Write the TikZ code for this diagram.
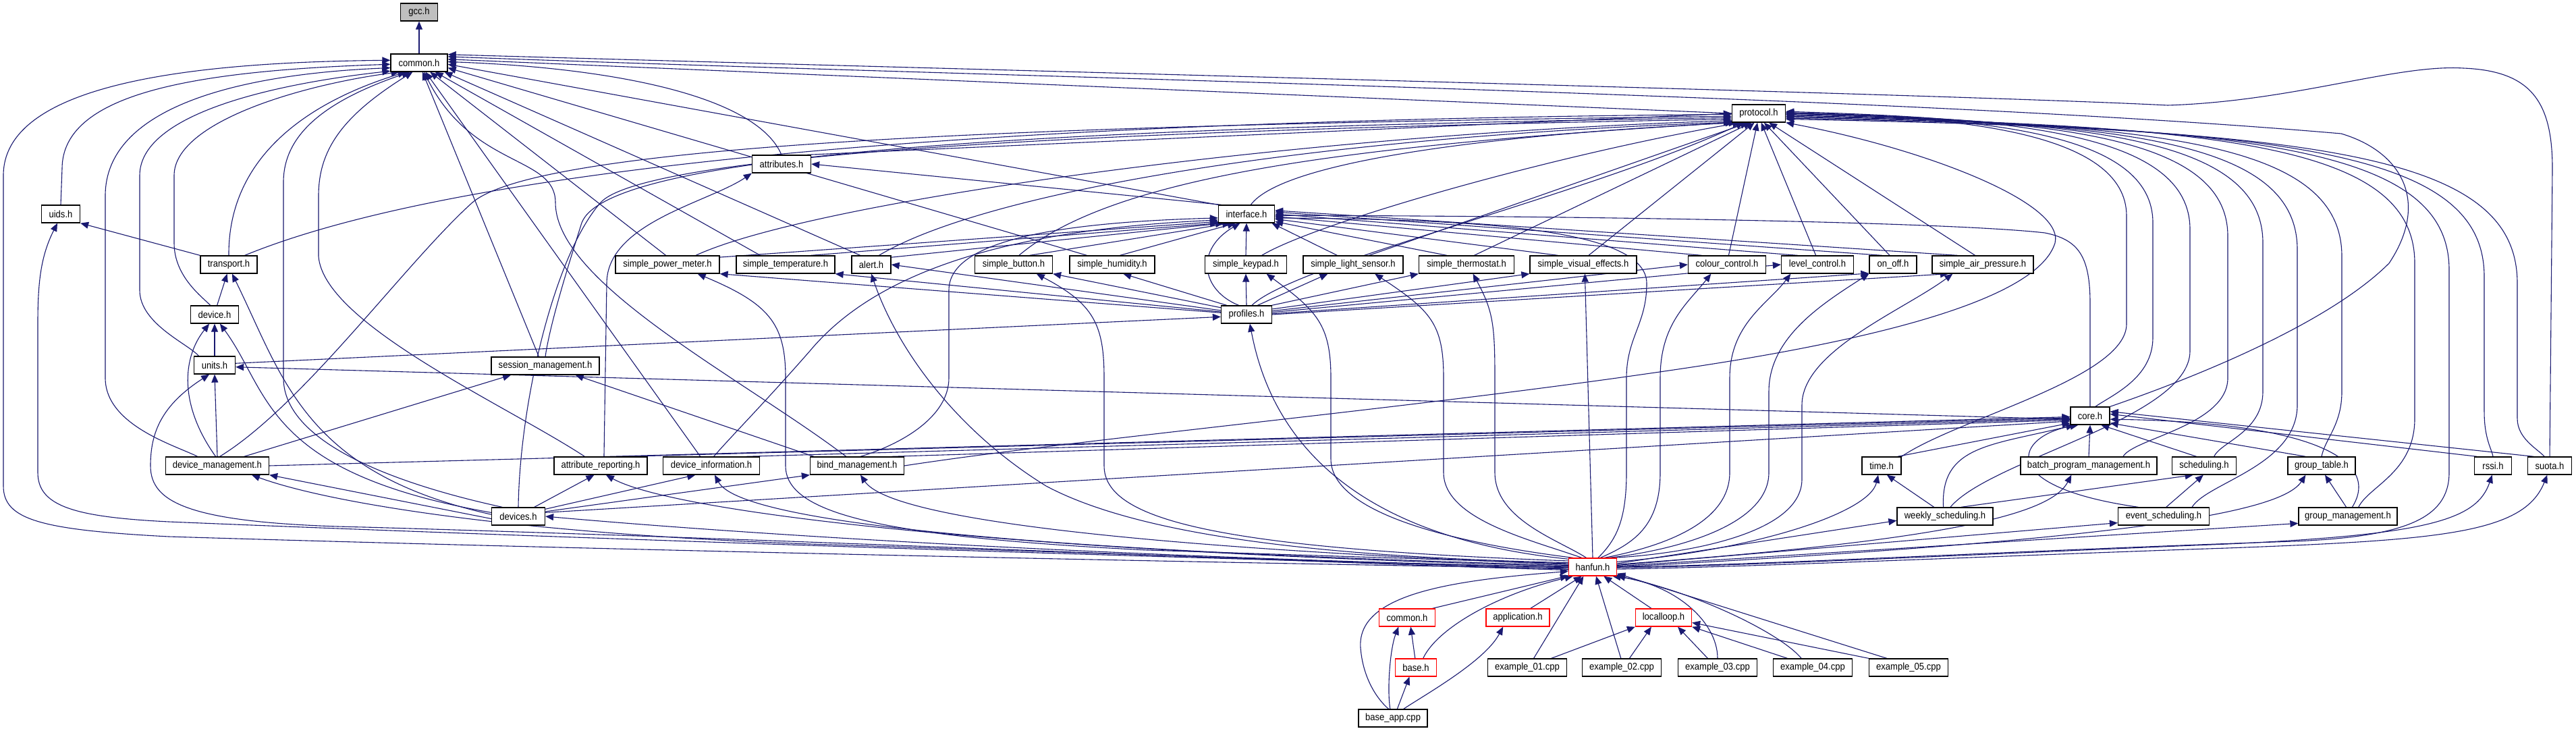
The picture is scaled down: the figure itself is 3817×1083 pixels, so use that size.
\documentclass[tikz,border=0pt]{standalone}
\usepackage{fontspec}
\newfontfamily\dfont{Liberation Sans}[FakeStretch=0.9]
\usetikzlibrary{arrows.meta}
\pgfdeclarelayer{bg}
\pgfsetlayers{bg,main}
\definecolor{edgeblue}{HTML}{191970}
\definecolor{gccfill}{HTML}{BFBFBF}
\tikzset{
  nd/.style={draw=black, line width=1.3pt, fill=white, minimum height=26pt, inner xsep=1pt, inner ysep=0pt, font={\dfont\fontsize{14.5pt}{16pt}\selectfont}},
  rnd/.style={nd, draw=red},
  dep/.style={draw=edgeblue, line width=1.1pt, {Triangle[length=12pt,width=10pt]}-},
}
\begin{document}
\begin{tikzpicture}[x=1pt,y=-1pt]
\useasboundingbox (0,0) rectangle (3817,1083);
% nodes
\node[nd, fill=gccfill, minimum width=55pt] (gcc) at (621,18) {gcc.h};
\node[nd, minimum width=84pt] (common) at (621,93) {common.h};
\node[nd, minimum width=79pt] (protocol) at (2606,168) {protocol.h};
\node[nd, minimum width=87pt] (attributes) at (1158,243) {attributes.h};
\node[nd, minimum width=57pt] (uids) at (90,317) {uids.h};
\node[nd, minimum width=83pt] (interface) at (1847,317) {interface.h};
\node[nd, minimum width=84pt] (transport) at (339,392) {transport.h};
\node[nd, minimum width=154pt] (spm) at (989,392) {simple\_power\_meter.h};
\node[nd, minimum width=146pt] (stemp) at (1164,392) {simple\_temperature.h};
\node[nd, minimum width=58pt] (alert) at (1291,392) {alert.h};
\node[nd, minimum width=115pt] (sbutton) at (1502,392) {simple\_button.h};
\node[nd, minimum width=126pt] (shum) at (1648,392) {simple\_humidity.h};
\node[nd, minimum width=121pt] (skeypad) at (1846,392) {simple\_keypad.h};
\node[nd, minimum width=148pt] (slight) at (2005,392) {simple\_light\_sensor.h};
\node[nd, minimum width=141pt] (stherm) at (2173,392) {simple\_thermostat.h};
\node[nd, minimum width=158pt] (svis) at (2346,392) {simple\_visual\_effects.h};
\node[nd, minimum width=115pt] (colour) at (2559,392) {colour\_control.h};
\node[nd, minimum width=107pt] (level) at (2693,392) {level\_control.h};
\node[nd, minimum width=70pt] (onoff) at (2805,392) {on\_off.h};
\node[nd, minimum width=150pt] (sair) at (2938,392) {simple\_air\_pressure.h};
\node[nd, minimum width=71pt] (device) at (318,466) {device.h};
\node[nd, minimum width=75pt] (profiles) at (1847,466) {profiles.h};
\node[nd, minimum width=61pt] (units) at (318,541) {units.h};
\node[nd, minimum width=160pt] (session) at (808,542) {session\_management.h};
\node[nd, minimum width=58pt] (core) at (3097,616) {core.h};
\node[nd, minimum width=153pt] (devmgmt) at (322,690) {device\_management.h};
\node[nd, minimum width=138pt] (attrrep) at (890,690) {attribute\_reporting.h};
\node[nd, minimum width=143pt] (devinfo) at (1054,690) {device\_information.h};
\node[nd, minimum width=139pt] (bind) at (1270,690) {bind\_management.h};
\node[nd, minimum width=58pt] (time) at (2788,690) {time.h};
\node[nd, minimum width=202pt] (batch) at (3095,690) {batch\_program\_management.h};
\node[nd, minimum width=95pt] (sched) at (3266,690) {scheduling.h};
\node[nd, minimum width=100pt] (gtable) at (3440,690) {group\_table.h};
\node[nd, minimum width=55pt] (rssi) at (3694,690) {rssi.h};
\node[nd, minimum width=65pt] (suota) at (3778,690) {suota.h};
\node[nd, minimum width=79pt] (devices) at (768,765) {devices.h};
\node[nd, minimum width=142pt] (weekly) at (2882,765) {weekly\_scheduling.h};
\node[nd, minimum width=135pt] (event) at (3206,765) {event\_scheduling.h};
\node[nd, minimum width=146pt] (gmgmt) at (3479,765) {group\_management.h};
\node[rnd, minimum width=71pt] (hanfun) at (2360,840) {hanfun.h};
\node[rnd, minimum width=83pt] (common2) at (2085,915) {common.h};
\node[rnd, minimum width=94pt] (application) at (2249,915) {application.h};
\node[rnd, minimum width=83pt] (localloop) at (2465,915) {localloop.h};
\node[rnd, minimum width=61pt] (base) at (2098,989) {base.h};
\node[nd, minimum width=117pt] (ex1) at (2263,989) {example\_01.cpp};
\node[nd, minimum width=117pt] (ex2) at (2403,989) {example\_02.cpp};
\node[nd, minimum width=117pt] (ex3) at (2545,989) {example\_03.cpp};
\node[nd, minimum width=117pt] (ex4) at (2686,989) {example\_04.cpp};
\node[nd, minimum width=117pt] (ex5) at (2828,989) {example\_05.cpp};
\node[nd, minimum width=102pt] (baseapp) at (2064,1064) {base\_app.cpp};
\begin{pgfonlayer}{bg}
\fill[white] (0,0) rectangle (3817,1083);
% gcc
\draw[dep] (gcc) -- (common);
% into common
\draw[dep] (common.175) .. controls (300,92) and (5,120) .. (5,260) -- (5,720) .. controls (5,770) and (60,785) .. (250,795) .. controls (900,815) and (1900,836) .. (hanfun.183);
\draw[dep] (common.183) .. controls (280,105) and (92,140) .. (92,250) -- (uids.north);
\draw[dep] (common.190) .. controls (350,110) and (156,160) .. (156,290) -- (156,560) .. controls (156,630) and (260,660) .. (devmgmt.155);
\draw[dep] (common.196) .. controls (400,125) and (207,170) .. (207,260) -- (207,430) .. controls (207,480) and (280,510) .. (units.150);
\draw[dep] (common.205) .. controls (450,125) and (258,180) .. (258,260) -- (258,360) .. controls (258,410) and (300,440) .. (device.115);
\draw[dep] (common.215) .. controls (460,150) and (338,230) .. (transport.north);
\draw[dep] (common.225) .. controls (480,150) and (420,200) .. (420,270) -- (420,560) .. controls (420,660) and (600,720) .. (devices.150);
\draw[dep] (common.235) .. controls (510,170) and (472,220) .. (472,290) -- (472,380) .. controls (480,480) and (750,600) .. (attrrep.150);
\draw[dep] (common.290) -- (session.125);
\draw[dep] (common.298) .. controls (700,250) and (823,230) .. (823,300) .. controls (823,420) and (1100,560) .. (bind.140);
\draw[dep] (common.305) -- (devinfo.140);
\draw[dep] (common.320) -- (spm.100);
\draw[dep] (common.330) -- (stemp.160);
\draw[dep] (common.340) -- (alert.140);
\draw[dep] (common.350) -- (shum.160);
\draw[dep] (common.357) -- (interface.north west);
\draw[dep] (common.2) .. controls (900,100) and (1120,140) .. (attributes.north);
\draw[dep] (common.7) -- (protocol.west);
\draw[dep] (common.12) .. controls (1500,115) and (2800,140) .. (3469,198) .. controls (3560,225) and (3600,300) .. (3540,390) .. controls (3450,480) and (3250,560) .. (core.north east);
\draw[dep] (common.16) .. controls (1500,105) and (2900,140) .. (3212,156) .. controls (3400,150) and (3550,95) .. (3650,101) .. controls (3750,105) and (3782,150) .. (3782,250) -- (suota.north);
% protocol left
\draw[dep] (protocol.182) .. controls (1500,178) and (700,240) .. (transport.30);
\draw[dep] (protocol.186) .. controls (1500,185) and (800,215) .. (700,300) .. controls (600,390) and (450,600) .. (devmgmt.75);
\draw[dep] (protocol.189) .. controls (1500,190) and (900,230) .. (862,330) .. controls (840,400) and (815,480) .. (session.north);
\draw[dep] (protocol.192) .. controls (1500,195) and (950,235) .. (890,300) .. controls (820,380) and (770,600) .. (devices.north);
\draw[dep] (protocol.180) -- (attributes.20);
\draw[dep] (protocol.195) .. controls (1900,200) and (1200,300) .. (spm.18);
\draw[dep] (protocol.198) .. controls (1900,205) and (1450,290) .. (alert.50);
\draw[dep] (protocol.200) .. controls (2000,215) and (1650,260) .. (sbutton.60);
\draw[dep] (protocol.203) .. controls (2200,200) and (1900,240) .. (interface.65);
\draw[dep] (protocol.207) .. controls (2300,230) and (1950,330) .. (skeypad.30);
\draw[dep] (protocol.212) .. controls (2350,290) and (1920,390) .. (profiles.60);
\draw[dep] (protocol.222) -- (slight.30);
\draw[dep] (protocol.232) -- (stherm.50);
\draw[dep] (protocol.245) -- (svis.60);
\draw[dep] (protocol.262) -- (colour.80);
\draw[dep] (protocol.285) -- (level.100);
\draw[dep] (protocol.300) -- (onoff.110);
\draw[dep] (protocol.318) -- (sair.130);
% protocol right fan
\draw[dep] (protocol.east) .. controls (2900,172) and (3151,195) .. (3151,320) -- (3151,480) .. controls (3151,560) and (2900,620) .. (time.north east);
\draw[dep] (protocol.east) .. controls (2950,174) and (3190,198) .. (3190,330) -- (3190,500) .. controls (3190,560) and (3130,585) .. (core.60);
\draw[dep] (protocol.4) .. controls (3000,176) and (3245,200) .. (3245,340) -- (3245,520) .. controls (3245,620) and (2950,680) .. (weekly.60);
\draw[dep] (protocol.2) .. controls (3050,178) and (3301,202) .. (3301,350) -- (3301,560) .. controls (3301,630) and (3160,650) .. (batch.15);
\draw[dep] (protocol.0) .. controls (3100,180) and (3353,205) .. (3353,360) -- (3353,580) .. controls (3353,640) and (3290,655) .. (sched.43);
\draw[dep] (protocol.358) .. controls (3150,182) and (3404,208) .. (3404,370) -- (3404,600) .. controls (3404,690) and (3270,715) .. (event.18);
\draw[dep] (protocol.356) .. controls (3200,184) and (3470,210) .. (3470,380) -- (3470,580) .. controls (3470,630) and (3445,650) .. (gtable.north);
\draw[dep] (protocol.354) .. controls (3300,186) and (3578,215) .. (3578,390) -- (3578,620) .. controls (3578,700) and (3510,720) .. (gmgmt.41);
\draw[dep] (protocol.352) .. controls (3350,188) and (3629,220) .. (3629,400) -- (3629,700) .. controls (3629,770) and (3560,795) .. (3400,802) .. controls (3000,815) and (2600,838) .. (hanfun.east);
\draw[dep] (protocol.350) .. controls (3400,190) and (3681,225) .. (3681,410) -- (3681,610) .. controls (3681,650) and (3692,665) .. (rssi.north);
\draw[dep] (protocol.348) .. controls (3450,192) and (3730,230) .. (3730,420) -- (3730,620) .. controls (3730,650) and (3760,665) .. (suota.120);
\draw[dep] (protocol.south east) .. controls (2850,220) and (3060,300) .. (3045,360) .. controls (3020,440) and (2800,500) .. (2500,545) .. controls (2100,605) and (1600,650) .. (bind.east);
% interface
\draw[dep] (attributes.east) -- (interface.160);
\draw[dep] (interface.188) .. controls (1550,330) and (1406,360) .. (1406,430) -- (1406,560) .. controls (1406,620) and (1330,660) .. (bind.70);
\draw[dep] (interface.192) .. controls (1500,340) and (1300,400) .. (1200,520) .. controls (1130,600) and (1080,650) .. (devinfo.75);
\draw[dep] (interface.195) -- (spm.8);
\draw[dep] (interface.198) -- (stemp.20);
\draw[dep] (interface.202) -- (alert.20);
\draw[dep] (interface.210) -- (sbutton.30);
\draw[dep] (interface.220) -- (shum.50);
\draw[dep] (interface.270) -- (skeypad.north);
\draw[dep] (interface.235) .. controls (1770,370) and (1780,430) .. (profiles.130);
\draw[dep] (interface.340) -- (slight.150);
\draw[dep] (interface.345) -- (stherm.155);
\draw[dep] (interface.350) -- (svis.160);
\draw[dep] (interface.355) -- (colour.160);
\draw[dep] (interface.0) -- (level.155);
\draw[dep] (interface.4) -- (onoff.140);
\draw[dep] (interface.7) -- (sair.160);
\draw[dep] (interface.352) .. controls (2200,325) and (2440,340) .. (2440,420) .. controls (2440,480) and (2410,500) .. (2410,560) -- (2410,700) .. controls (2410,770) and (2395,800) .. (hanfun.60);
\draw[dep] (interface.357) .. controls (2400,320) and (2900,330) .. (3030,345) .. controls (3080,355) and (3097,380) .. (3097,450) -- (core.north);
% profiles
\draw[dep] (spm.south east) -- (profiles.176);
\draw[dep] (stemp.south east) -- (profiles.174);
\draw[dep] (alert.east) -- (profiles.171);
\draw[dep] (sbutton.south east) -- (profiles.165);
\draw[dep] (shum.320) -- (profiles.155);
\draw[dep] (skeypad.south) -- (profiles.north);
\draw[dep] (slight.200) -- (profiles.40);
\draw[dep] (stherm.south west) -- (profiles.20);
\draw[dep] (svis.south west) -- (profiles.12);
\draw[dep] (colour.west) -- (profiles.8);
\draw[dep] (level.west) -- (profiles.5);
\draw[dep] (onoff.200) -- (profiles.2);
\draw[dep] (sair.195) -- (profiles.0);
\draw[dep] (profiles.185) -- (units.5);
% core
\draw[dep] (units.355) -- (core.190);
\draw[dep] (core.183) -- (devmgmt.east);
\draw[dep] (core.186) -- (attrrep.20);
\draw[dep] (core.189) -- (devinfo.15);
\draw[dep] (core.192) -- (bind.15);
\draw[dep] (core.195) -- (devices.8);
\draw[dep] (core.200) -- (time.30);
\draw[dep] (core.210) .. controls (2950,660) and (2875,660) .. (weekly.100);
\draw[dep] (core.218) .. controls (2990,645) and (2950,720) .. (event.160);
\draw[dep] (core.south) -- (batch.north);
\draw[dep] (core.320) -- (sched.130);
\draw[dep] (core.340) -- (gtable.150);
\draw[dep] (core.350) .. controls (3420,625) and (3530,680) .. (gmgmt.65);
\draw[dep] (core.5) -- (rssi.150);
\draw[dep] (core.12) -- (suota.150);
\draw[dep] (time.300) -- (weekly.140);
\draw[dep] (sched.220) -- (weekly.30);
\draw[dep] (sched.265) -- (event.75);
\draw[dep] (gtable.290) -- (gmgmt.100);
% hanfun to right nodes
\draw[dep] (time.250) .. controls (2770,760) and (2600,815) .. (hanfun.12);
\draw[dep] (weekly.185) -- (hanfun.8);
\draw[dep] (event.188) -- (hanfun.4);
\draw[dep] (gmgmt.188) -- (hanfun.2);
\draw[dep] (batch.208) .. controls (3040,760) and (2900,800) .. (hanfun.6);
\draw[dep] (gtable.210) .. controls (3380,760) and (3150,800) .. (hanfun.0);
\draw[dep] (rssi.265) .. controls (3670,770) and (3600,792) .. (3300,806) .. controls (3000,818) and (2600,838) .. (hanfun.358);
\draw[dep] (suota.255) .. controls (3740,790) and (3620,800) .. (3300,812) .. controls (3000,822) and (2600,840) .. (hanfun.355);
% hanfun to interface headers
\draw[dep] (skeypad.336) .. controls (1950,460) and (1972,480) .. (1972,560) -- (1972,680) .. controls (1972,770) and (2200,810) .. (hanfun.155);
\draw[dep] (slight.337) .. controls (2120,460) and (2139,480) .. (2139,560) -- (2139,700) .. controls (2139,770) and (2270,800) .. (hanfun.140);
\draw[dep] (stherm.305) .. controls (2212,460) and (2215,480) .. (2215,560) -- (2215,700) .. controls (2215,770) and (2310,800) .. (hanfun.125);
\draw[dep] (svis.280) -- (hanfun.north);
\draw[dep] (colour.210) .. controls (2500,450) and (2460,480) .. (2460,560) -- (2460,700) .. controls (2460,780) and (2420,805) .. (hanfun.50);
\draw[dep] (level.199) .. controls (2620,450) and (2563,480) .. (2563,560) -- (2563,700) .. controls (2563,780) and (2450,812) .. (hanfun.38);
\draw[dep] (onoff.south west) .. controls (2700,450) and (2621,500) .. (2621,580) -- (2621,700) .. controls (2621,785) and (2460,818) .. (hanfun.30);
\draw[dep] (sair.197) .. controls (2820,460) and (2670,520) .. (2670,600) -- (2670,710) .. controls (2670,795) and (2480,822) .. (hanfun.25);
% hanfun to left nodes
\draw[dep] (spm.343) .. controls (1140,450) and (1164,480) .. (1164,560) -- (1164,690) .. controls (1164,760) and (1300,795) .. (1700,815) -- (hanfun.172);
\draw[dep] (alert.south) .. controls (1330,520) and (1420,640) .. (1550,720) .. controls (1700,800) and (2000,826) .. (hanfun.170);
\draw[dep] (sbutton.338) .. controls (1620,450) and (1636,480) .. (1636,560) -- (1636,690) .. controls (1636,770) and (1800,812) .. (hanfun.166);
\draw[dep] (profiles.290) .. controls (1875,600) and (1950,790) .. (hanfun.162);
\draw[dep] (devinfo.290) .. controls (1100,780) and (1600,818) .. (hanfun.176);
\draw[dep] (bind.290) .. controls (1320,770) and (1700,812) .. (hanfun.174);
\draw[dep] (attrrep.300) .. controls (1000,760) and (1500,818) .. (hanfun.178);
\draw[dep] (devices.east) .. controls (1200,800) and (1800,830) .. (hanfun.180);
\draw[dep] (devmgmt.345) .. controls (500,750) and (800,792) .. (1200,806) .. controls (1700,822) and (2100,836) .. (hanfun.185);
\draw[dep] (units.240) .. controls (240,600) and (223,640) .. (223,690) .. controls (223,745) and (280,776) .. (540,781) .. controls (1200,800) and (2000,836) .. (hanfun.187);
\draw[dep] (uids.250) .. controls (60,380) and (56,420) .. (56,480) -- (56,700) .. controls (56,750) and (110,766) .. (250,773) .. controls (900,800) and (1900,832) .. (hanfun.181);
% lower part
\draw[dep] (hanfun.200) -- (common2.20);
\draw[dep] (hanfun.220) -- (application.36);
\draw[dep] (hanfun.320) -- (localloop.143);
\draw[dep] (hanfun.205) .. controls (2220,880) and (2130,930) .. (base.52);
\draw[dep] (hanfun.225) -- (ex1.55);
\draw[dep] (hanfun.290) -- (ex2.95);
\draw[dep] (hanfun.335) .. controls (2480,865) and (2545,920) .. (ex3.90);
\draw[dep] (hanfun.340) .. controls (2520,880) and (2640,940) .. (ex4.141);
\draw[dep] (hanfun.345) -- (ex5.157);
\draw[dep] (localloop.south west) -- (ex1.21);
\draw[dep] (localloop.217) -- (ex2.50);
\draw[dep] (localloop.327) -- (ex3.137);
\draw[dep] (localloop.south east) -- (ex4.160);
\draw[dep] (localloop.350) -- (ex5.north west);
\draw[dep] (common2.291) -- (base.95);
\draw[dep] (common2.227) .. controls (2060,960) and (2055,1020) .. (baseapp.107);
\draw[dep] (base.235) -- (baseapp.65);
\draw[dep] (application.212) .. controls (2200,980) and (2110,1030) .. (baseapp.41);
\draw[dep] (hanfun.190) .. controls (2150,860) and (2010,880) .. (2016,960) .. controls (2020,1010) and (2045,1040) .. (baseapp.115);
% left misc
\draw[dep] (uids.south east) -- (transport.north west);
\draw[dep] (transport.260) -- (device.75);
\draw[dep] (device.south) -- (units.north);
\draw[dep] (device.240) .. controls (270,530) and (265,600) .. (devmgmt.100);
\draw[dep] (units.south) -- (devmgmt.north);
\draw[dep] (session.195) -- (devmgmt.19);
\draw[dep] (session.343) -- (bind.168);
\draw[dep] (device.300) .. controls (400,580) and (390,700) .. (devices.172);
\draw[dep] (transport.290) .. controls (420,560) and (450,700) .. (devices.176);
\draw[dep] (devmgmt.south east) -- (devices.185);
\draw[dep] (attrrep.235) -- (devices.30);
\draw[dep] (devinfo.210) -- (devices.15);
\draw[dep] (bind.south west) -- (devices.10);
\draw[dep] (attributes.south west) .. controls (1050,300) and (899,330) .. (899,420) -- (attrrep.70);
\end{pgfonlayer}
\end{tikzpicture}
\end{document}
